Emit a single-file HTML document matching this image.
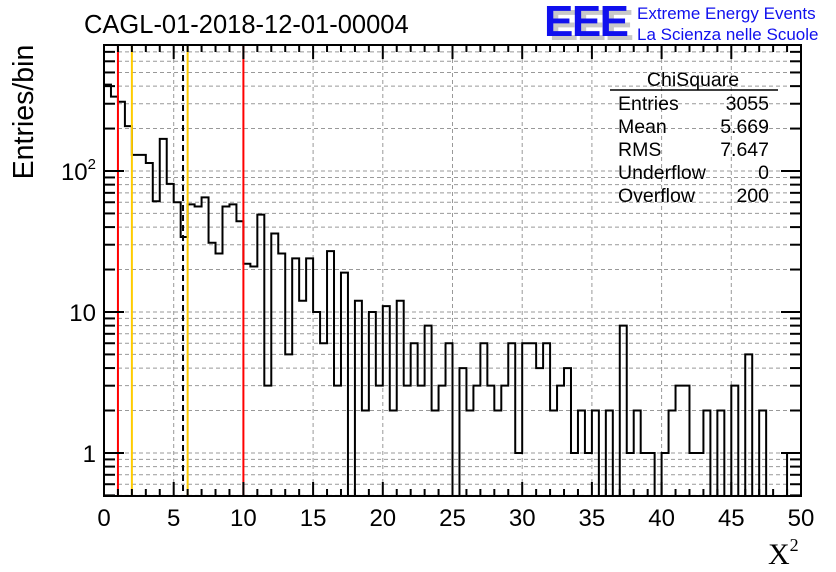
<!DOCTYPE html>
<html><head><meta charset="utf-8">
<style>
html,body{margin:0;padding:0;background:#fff;}
svg{display:block;font-family:"Liberation Sans",sans-serif;}
</style></head>
<body>
<svg id="chart" width="836" height="572" viewBox="0 0 836 572" xmlns="http://www.w3.org/2000/svg">
<rect width="836" height="572" fill="#fff"/>
<g id="grid"></g>
<g id="marks"></g>
<g id="axes"></g>
<text x="84" y="33" font-size="25.5">CAGL-01-2018-12-01-00004</text>
<g>
<text x="549" y="40" font-size="44" font-weight="bold" fill="#c8c8c8" letter-spacing="-3" textLength="82">EEE</text>
<text x="544" y="36" font-size="44" font-weight="bold" fill="#1010ee" letter-spacing="-3" textLength="82">EEE</text>
<text x="637" y="19" font-size="17" fill="#1010ee">Extreme Energy Events</text>
<text x="637" y="40" font-size="17" fill="#1010ee">La Scienza nelle Scuole</text>
</g>
<g font-size="19.5">
<text x="693" y="86" text-anchor="middle">ChiSquare</text>
<line x1="610" y1="90" x2="778" y2="90" stroke="#000" stroke-width="1.5"/>
<text x="618" y="110">Entries</text><text x="769" y="110" text-anchor="end">3055</text>
<text x="618" y="133">Mean</text><text x="769" y="133" text-anchor="end">5.669</text>
<text x="618" y="156">RMS</text><text x="769" y="156" text-anchor="end">7.647</text>
<text x="618" y="179">Underflow</text><text x="769" y="179" text-anchor="end">0</text>
<text x="618" y="202">Overflow</text><text x="769" y="202" text-anchor="end">200</text>
</g>
<text transform="translate(33,112) rotate(-90)" text-anchor="middle" font-size="28.5">Entries/bin</text>
<text x="768" y="564" font-family="Liberation Serif,serif" font-size="30">X<tspan font-size="18" dy="-13">2</tspan></text>
</svg>
<script>
const binCounts = [410,337,310,208,130,130,114,61,169,81,60,34,58,56,65,31,26,56,58,44,
22,21,49,3,36,26,5,24,12,24,10,6,27,3,19,0,12,2,10,3,
11,2,12,3,6,3,8,2,3,6,0,4,2,3,6,3,2,3,6,1,
6,6,4,6,2,3,4,1,2,1,2,0,2,0,8,1,2,1,1,0,
1,2,3,3,1,1,2,0,2,0,3,0,5,0,2,0,0,0,1,1];
const xTickLabels = [0,5,10,15,20,25,30,35,40,45,50];
const yTickValues = [1,10,100];
const markerLinesRed = [1,10];
const markerLinesYellow = [2,6];
const meanValue = [5.669];

const X0=104,X1=801,Y0=496,Y1=45,XMIN=0,XMAX=50,YMIN=0.495,YMAX=783;
const NS="http://www.w3.org/2000/svg";
function sx(v){return X0+(v-XMIN)/(XMAX-XMIN)*(X1-X0);}
function sy(v){if(v<=YMIN)return Y0;return Y0-(Math.log10(v)-Math.log10(YMIN))/(Math.log10(YMAX)-Math.log10(YMIN))*(Y0-Y1);}
function mk(tag,attrs,parent){const e=document.createElementNS(NS,tag);for(const k in attrs)e.setAttribute(k,attrs[k]);parent.appendChild(e);return e;}
const grid=document.getElementById('grid'),marks=document.getElementById('marks'),axes=document.getElementById('axes');

for(let k=-1;k<=2;k++)for(let m=1;m<=9;m++){const v=m*Math.pow(10,k);if(v<YMIN||v>YMAX)continue;const y=sy(v);
const l=mk('line',{x1:X0,x2:X1,y1:y,y2:y,stroke:'#999','stroke-width':1,'stroke-dasharray':'4,3'},grid);

}
xTickLabels.forEach(v=>{if(v===XMIN||v===XMAX)return;const x=sx(v);
const l=mk('line',{x1:x,x2:x,y1:Y1,y2:Y0,stroke:'#999','stroke-width':1,'stroke-dasharray':'4,3'},grid);

});

const bw=(XMAX-XMIN)/binCounts.length;
let d='M'+sx(0)+','+Y0;
binCounts.forEach((c,i)=>{const y=sy(c);d+=' L'+sx(i*bw)+','+y+' L'+sx((i+1)*bw)+','+y;});
d+=' L'+sx(XMAX)+','+Y0;
const hist=mk('path',{d:d,fill:'none',stroke:'#000','stroke-width':2},marks);



markerLinesRed.forEach(v=>{const l=mk('line',{x1:sx(v),x2:sx(v),y1:Y1,y2:Y0,stroke:'#ff0000','stroke-width':2},marks);

});
markerLinesYellow.forEach(v=>{const l=mk('line',{x1:sx(v),x2:sx(v),y1:Y1,y2:Y0,stroke:'#ffcc00','stroke-width':2},marks);

});
meanValue.forEach(v=>{const l=mk('line',{x1:sx(v),x2:sx(v),y1:Y1,y2:Y0,stroke:'#000','stroke-width':2,'stroke-dasharray':'6,4'},marks);

});

const fr=mk('rect',{x:X0,y:Y1,width:X1-X0,height:Y0-Y1,fill:'none',stroke:'#000','stroke-width':2},axes);



for(let v=XMIN;v<=XMAX;v++){const x=sx(v);const len=(v%5===0)?14:7;
mk('line',{x1:x,x2:x,y1:Y0,y2:Y0-len,stroke:'#000','stroke-width':2},axes);
mk('line',{x1:x,x2:x,y1:Y1,y2:Y1+len,stroke:'#000','stroke-width':2},axes);}
xTickLabels.forEach(v=>{const t=mk('text',{x:sx(v),y:Y0+30,'text-anchor':'middle','font-size':24},axes);t.textContent=v;

});

for(let k=-1;k<=2;k++)for(let m=1;m<=9;m++){const v=m*Math.pow(10,k);if(v<YMIN||v>YMAX)continue;const y=sy(v);const len=m===1?20:11;
mk('line',{x1:X0,x2:X0+len,y1:y,y2:y,stroke:'#000','stroke-width':2},axes);
mk('line',{x1:X1,x2:X1-len,y1:y,y2:y,stroke:'#000','stroke-width':2},axes);}
yTickValues.forEach(v=>{const y=sy(v);const t=mk('text',{x:X0-8,y:y+9,'text-anchor':'end','font-size':24},axes);
if(v===100){t.textContent='10';const s=mk('tspan',{'font-size':15,dy:-11},t);s.textContent='2';}else t.textContent=v;

});
</script>
</body></html>
